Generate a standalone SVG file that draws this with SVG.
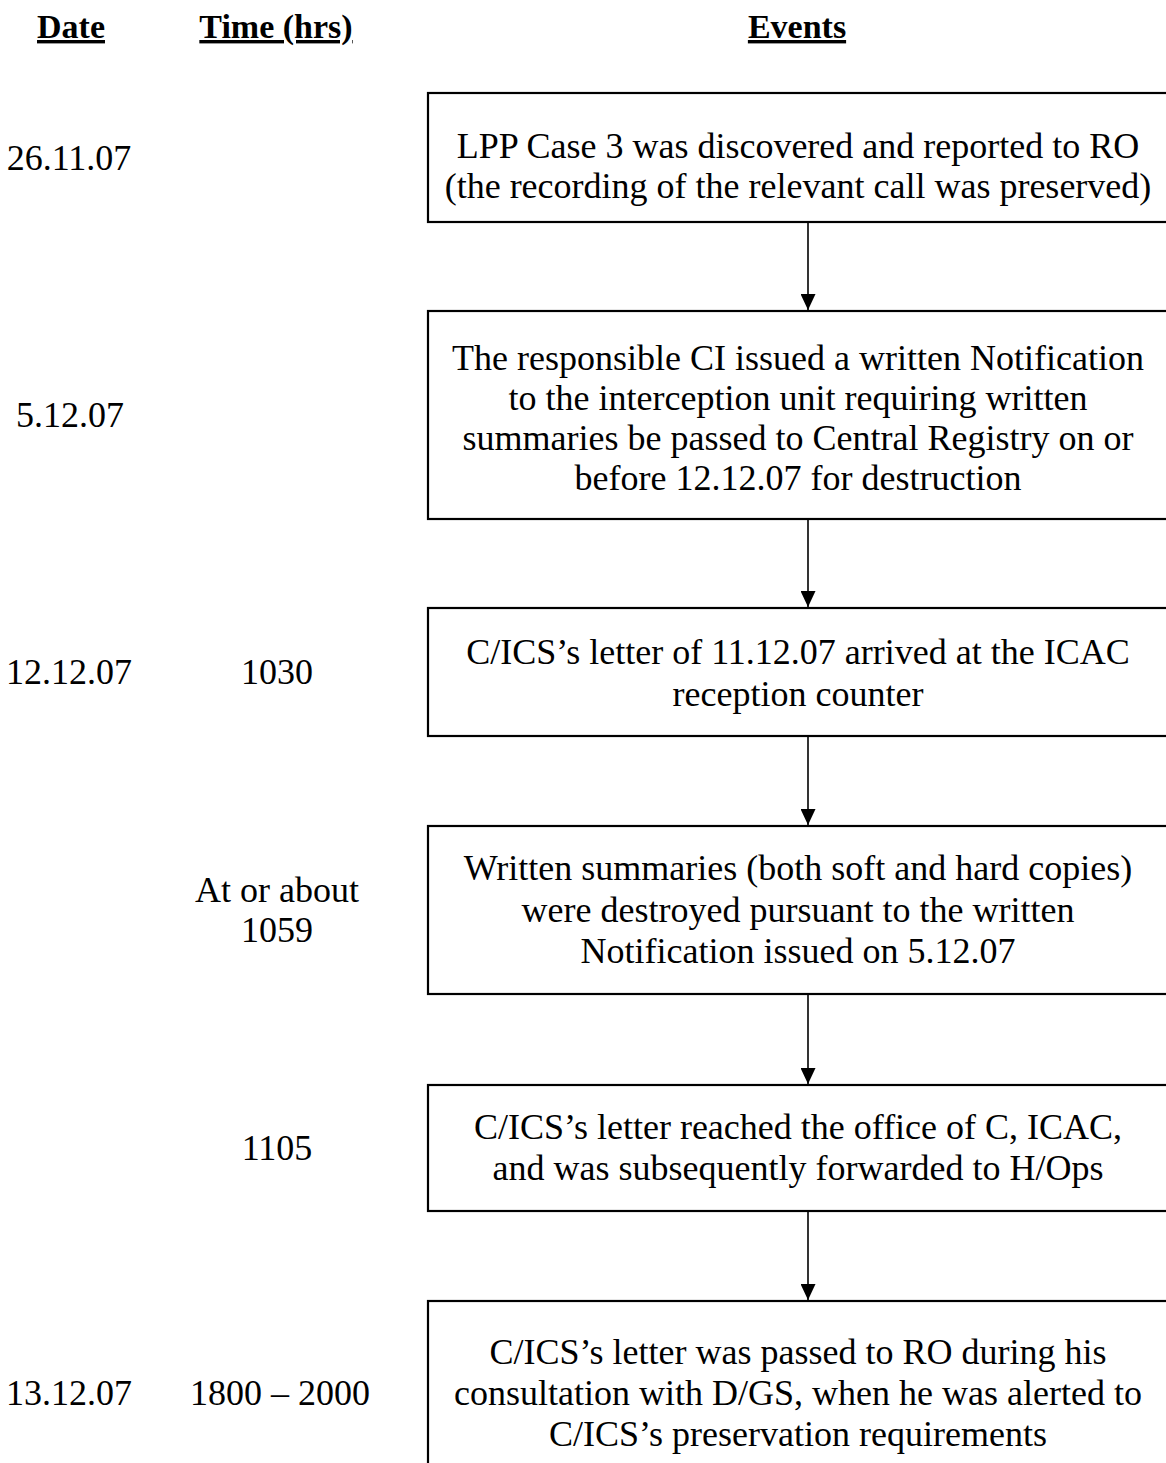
<svg xmlns="http://www.w3.org/2000/svg" width="1166" height="1463" viewBox="0 0 1166 1463">
<style>
text{font-family:"Liberation Serif","Times New Roman",serif;font-size:36px;fill:#000;text-anchor:middle}
.h{font-weight:bold;font-size:34px;text-decoration:underline}
.box{fill:#fff;stroke:#000;stroke-width:2.2}
.conn{stroke:#000;stroke-width:1.6;fill:none;marker-end:url(#ah)}
</style>
<defs>
<marker id="ah" viewBox="0 0 16 15" refX="16" refY="7.5" markerWidth="16" markerHeight="15" markerUnits="userSpaceOnUse" orient="auto">
<path d="M0,0 L16,7.5 L0,15 Z" fill="#000"/>
</marker>
</defs>
<rect width="1166" height="1463" fill="#fff"/>
<g id="headers">
<text class="h" x="71" y="38">Date</text>
<text class="h" x="276" y="38">Time (hrs)</text>
<text class="h" x="797" y="38">Events</text>
</g>
<g id="dates">
<text x="69" y="170">26.11.07</text>
<text x="70" y="427">5.12.07</text>
<text x="69" y="684">12.12.07</text>
<text x="69" y="1405">13.12.07</text>
</g>
<g id="times">
<text x="277" y="684">1030</text>
<text x="277" y="902">At or about</text>
<text x="277" y="942">1059</text>
<text x="277" y="1160">1105</text>
<text x="280" y="1405">1800 – 2000</text>
</g>
<g id="connectors">
<path class="conn" d="M808,223 V310"/>
<path class="conn" d="M808,520 V607"/>
<path class="conn" d="M808,737 V825"/>
<path class="conn" d="M808,995 V1084"/>
<path class="conn" d="M808,1212 V1300"/>
</g>
<g id="n1">
<rect class="box" x="428" y="93" width="760" height="129"/>
<text x="798" y="158">LPP Case 3 was discovered and reported to RO</text>
<text x="798" y="198">(the recording of the relevant call was preserved)</text>
</g>
<g id="n2">
<rect class="box" x="428" y="311" width="760" height="208"/>
<text x="798" y="370">The responsible CI issued a written Notification</text>
<text x="798" y="410">to the interception unit requiring written</text>
<text x="798" y="450">summaries be passed to Central Registry on or</text>
<text x="798" y="490">before 12.12.07 for destruction</text>
</g>
<g id="n3">
<rect class="box" x="428" y="608" width="760" height="128"/>
<text x="798" y="664">C/ICS’s letter of 11.12.07 arrived at the ICAC</text>
<text x="798" y="706">reception counter</text>
</g>
<g id="n4">
<rect class="box" x="428" y="826" width="760" height="168"/>
<text x="798" y="880">Written summaries (both soft and hard copies)</text>
<text x="798" y="922">were destroyed pursuant to the written</text>
<text x="798" y="963">Notification issued on 5.12.07</text>
</g>
<g id="n5">
<rect class="box" x="428" y="1085" width="760" height="126"/>
<text x="798" y="1139">C/ICS’s letter reached the office of C, ICAC,</text>
<text x="798" y="1180">and was subsequently forwarded to H/Ops</text>
</g>
<g id="n6">
<rect class="box" x="428" y="1301" width="760" height="200"/>
<text x="798" y="1364">C/ICS’s letter was passed to RO during his</text>
<text x="798" y="1405">consultation with D/GS, when he was alerted to</text>
<text x="798" y="1446">C/ICS’s preservation requirements</text>
</g>
</svg>
